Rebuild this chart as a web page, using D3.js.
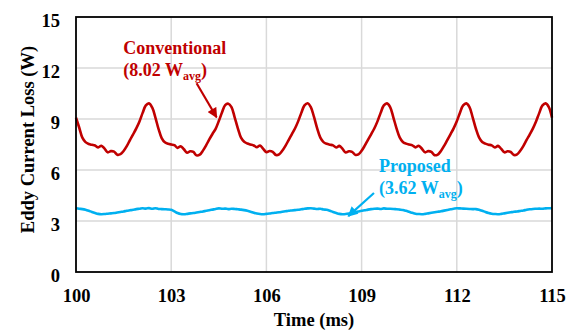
<!DOCTYPE html>
<html>
<head>
<meta charset="utf-8">
<script src="https://cdn.jsdelivr.net/npm/d3@7"></script>
<style>
  html, body { margin: 0; padding: 0; background: #fff; }
  svg { display: block; }
  text { font-family: "Liberation Serif", "Times New Roman", serif; font-weight: bold; }
</style>
</head>
<body>
<svg id="chart" width="578" height="333"></svg>
<script>
// Eddy current loss, sampled every 0.1 ms from 100 ms to 115 ms
const timeStart = 100;
const timeStep = 0.1;

const conventionalLoss = [
  9.08, 8.50, 7.90, 7.64, 7.53, 7.48, 7.44, 7.33, 7.43, 7.26,
  7.04, 7.11, 7.08, 6.90, 6.93, 7.12, 7.40, 7.76, 8.10, 8.45,
  8.86, 9.36, 9.80, 9.92, 9.68, 9.10, 8.42, 7.88, 7.63, 7.55,
  7.50, 7.46, 7.30, 7.40, 7.22, 7.02, 7.10, 7.06, 6.86, 6.90,
  7.14, 7.45, 7.80, 8.12, 8.42, 8.88, 9.38, 9.82, 9.90, 9.70,
  9.10, 8.45, 7.90, 7.66, 7.56, 7.50, 7.44, 7.34, 7.44, 7.24,
  7.05, 7.12, 7.07, 6.88, 6.92, 7.13, 7.42, 7.76, 8.10, 8.44,
  8.86, 9.36, 9.80, 9.93, 9.70, 9.12, 8.45, 7.90, 7.64, 7.54,
  7.49, 7.45, 7.32, 7.42, 7.24, 7.03, 7.10, 7.07, 6.89, 6.92,
  7.13, 7.43, 7.77, 8.10, 8.44, 8.86, 9.36, 9.80, 9.92, 9.70,
  9.10, 8.45, 7.92, 7.65, 7.55, 7.50, 7.45, 7.33, 7.43, 7.25,
  7.04, 7.11, 7.06, 6.87, 6.91, 7.12, 7.42, 7.76, 8.10, 8.45,
  8.87, 9.37, 9.80, 9.92, 9.70, 9.10, 8.44, 7.92, 7.65, 7.55,
  7.49, 7.45, 7.32, 7.42, 7.24, 7.04, 7.10, 7.06, 6.88, 6.92,
  7.13, 7.42, 7.77, 8.10, 8.45, 8.87, 9.36, 9.80, 9.92, 9.70,
  9.08
];

const proposedLoss = [
  3.75, 3.72, 3.70, 3.66, 3.60, 3.53, 3.47, 3.42, 3.40, 3.41,
  3.43, 3.45, 3.47, 3.50, 3.53, 3.56, 3.60, 3.63, 3.66, 3.70,
  3.72, 3.75, 3.73, 3.76, 3.72, 3.75, 3.71, 3.70, 3.69, 3.68,
  3.66, 3.57, 3.47, 3.41, 3.40, 3.42, 3.45, 3.47, 3.50, 3.53,
  3.56, 3.60, 3.63, 3.67, 3.71, 3.74, 3.72, 3.73, 3.70, 3.72,
  3.71, 3.69, 3.67, 3.64, 3.60, 3.55, 3.49, 3.44, 3.41, 3.40,
  3.42, 3.44, 3.47, 3.49, 3.51, 3.54, 3.57, 3.60, 3.62, 3.64,
  3.66, 3.69, 3.72, 3.74, 3.75, 3.73, 3.71, 3.72, 3.68, 3.66,
  3.60, 3.53, 3.47, 3.42, 3.40, 3.41, 3.44, 3.48, 3.52, 3.56,
  3.60, 3.63, 3.67, 3.70, 3.72, 3.73, 3.71, 3.74, 3.72, 3.72,
  3.71, 3.69, 3.67, 3.65, 3.60, 3.54, 3.48, 3.43, 3.41, 3.40,
  3.42, 3.45, 3.48, 3.51, 3.54, 3.57, 3.61, 3.65, 3.69, 3.72,
  3.75, 3.74, 3.73, 3.72, 3.71, 3.70, 3.70, 3.66, 3.60, 3.53,
  3.47, 3.43, 3.41, 3.40, 3.42, 3.45, 3.48, 3.51, 3.54, 3.56,
  3.59, 3.62, 3.66, 3.69, 3.71, 3.72, 3.73, 3.72, 3.74, 3.75,
  3.76
];

const xTicks = [100, 103, 106, 109, 112, 115];
const yTicks = [0, 3, 6, 9, 12, 15];

const conventionalLabel = { name: "Conventional", avg: "8.02" };
const proposedLabel = { name: "Proposed", avg: "3.62" };

const colors = { conventional: "#C00000", proposed: "#00B0F0" };

const margin = { top: 17, right: 26, bottom: 61, left: 76 };
const width = 578, height = 333;
const innerW = width - margin.left - margin.right;
const innerH = height - margin.top - margin.bottom;

const svg = d3.select("#chart");
const g = svg.append("g").attr("transform", `translate(${margin.left},${margin.top})`);

const x = d3.scaleLinear().domain([100, 115]).range([0, innerW]);
const y = d3.scaleLinear().domain([0, 15]).range([innerH, 0]);

const times = conventionalLoss.map((_, i) => timeStart + i * timeStep);

// gridlines
g.append("g")
  .selectAll("line.vgrid")
  .data(xTicks.slice(1, -1))
  .join("line")
  .attr("x1", d => x(d)).attr("x2", d => x(d))
  .attr("y1", 0).attr("y2", innerH)
  .attr("stroke", "#d9d9d9").attr("stroke-width", 1.5);

g.append("g")
  .selectAll("line.hgrid")
  .data(yTicks.slice(1, -1))
  .join("line")
  .attr("x1", 0).attr("x2", innerW)
  .attr("y1", d => y(d)).attr("y2", d => y(d))
  .attr("stroke", "#d9d9d9").attr("stroke-width", 1.5);

// axes (labels only, ticks hidden)
const xAxis = g.append("g")
  .attr("transform", `translate(0,${innerH})`)
  .call(d3.axisBottom(x).tickValues(xTicks).tickSize(0).tickPadding(0).tickFormat(d3.format("d")));
xAxis.select(".domain").remove();
xAxis.selectAll("text")
  .attr("y", 30).attr("dy", 0)
  .attr("font-size", 18.5).attr("fill", "#000")
  .style("font-family", '"Liberation Serif", serif').style("font-weight", "bold");

const yAxis = g.append("g")
  .call(d3.axisLeft(y).tickValues(yTicks).tickSize(0).tickPadding(0).tickFormat(d3.format("d")));
yAxis.select(".domain").remove();
yAxis.selectAll("text")
  .attr("x", -16).attr("dy", "0.5em")
  .attr("font-size", 18.5).attr("fill", "#000")
  .style("font-family", '"Liberation Serif", serif').style("font-weight", "bold");

// series lines
const line = d3.line()
  .x((d, i) => x(times[i]))
  .y(d => y(d))
  .curve(d3.curveCatmullRom.alpha(0.5));

g.append("path")
  .datum(proposedLoss)
  .attr("d", line)
  .attr("fill", "none")
  .attr("stroke", colors.proposed)
  .attr("stroke-width", 2.6)
  .attr("stroke-linejoin", "round");

g.append("path")
  .datum(conventionalLoss)
  .attr("d", line)
  .attr("fill", "none")
  .attr("stroke", colors.conventional)
  .attr("stroke-width", 2.6)
  .attr("stroke-linejoin", "round");

// plot frame
g.append("rect")
  .attr("x", 0).attr("y", 0)
  .attr("width", innerW).attr("height", innerH)
  .attr("fill", "none").attr("stroke", "#000").attr("stroke-width", 1.8);

// axis titles
svg.append("text")
  .attr("x", margin.left + innerW / 2)
  .attr("y", 326)
  .attr("text-anchor", "middle")
  .attr("font-size", 18.5)
  .text("Time (ms)");

svg.append("text")
  .attr("transform", `translate(34,${margin.top + innerH / 2 - 5}) rotate(-90)`)
  .attr("text-anchor", "middle")
  .attr("font-size", 18.5)
  .text("Eddy Current Loss (W)");

// arrow markers
const defs = svg.append("defs");
Object.entries(colors).forEach(([key, c]) => {
  defs.append("marker")
    .attr("id", `arrow-${key}`)
    .attr("viewBox", "0 0 10 10")
    .attr("refX", 9).attr("refY", 5)
    .attr("markerWidth", 5).attr("markerHeight", 4.6)
    .attr("markerUnits", "strokeWidth")
    .attr("orient", "auto")
    .append("path")
    .attr("d", "M0,0 L10,5 L0,10 Z")
    .attr("fill", c);
});

function annotate(label, color, key, tx, ty1, ty2, from, to) {
  g.append("text")
    .attr("x", x(tx)).attr("y", y(ty1))
    .attr("font-size", 18).attr("fill", color)
    .text(label.name);
  const t2 = g.append("text")
    .attr("x", x(tx)).attr("y", y(ty2))
    .attr("font-size", 18).attr("fill", color);
  t2.append("tspan").text(`(${label.avg} W`);
  t2.append("tspan").attr("font-size", 12).attr("dy", 4).text("avg");
  t2.append("tspan").attr("dy", -4).text(")");
  g.append("line")
    .attr("x1", x(from[0])).attr("y1", y(from[1]))
    .attr("x2", x(to[0])).attr("y2", y(to[1]))
    .attr("stroke", color).attr("stroke-width", 2.2)
    .attr("marker-end", `url(#arrow-${key})`);
}

annotate(conventionalLabel, colors.conventional, "conventional",
  101.49, 12.8, 11.53, [103.8, 11.1], [104.43, 9.1]);
annotate(proposedLabel, colors.proposed, "proposed",
  109.55, 5.88, 4.59, [109.39, 4.65], [108.58, 3.29]);
</script>
</body>
</html>
